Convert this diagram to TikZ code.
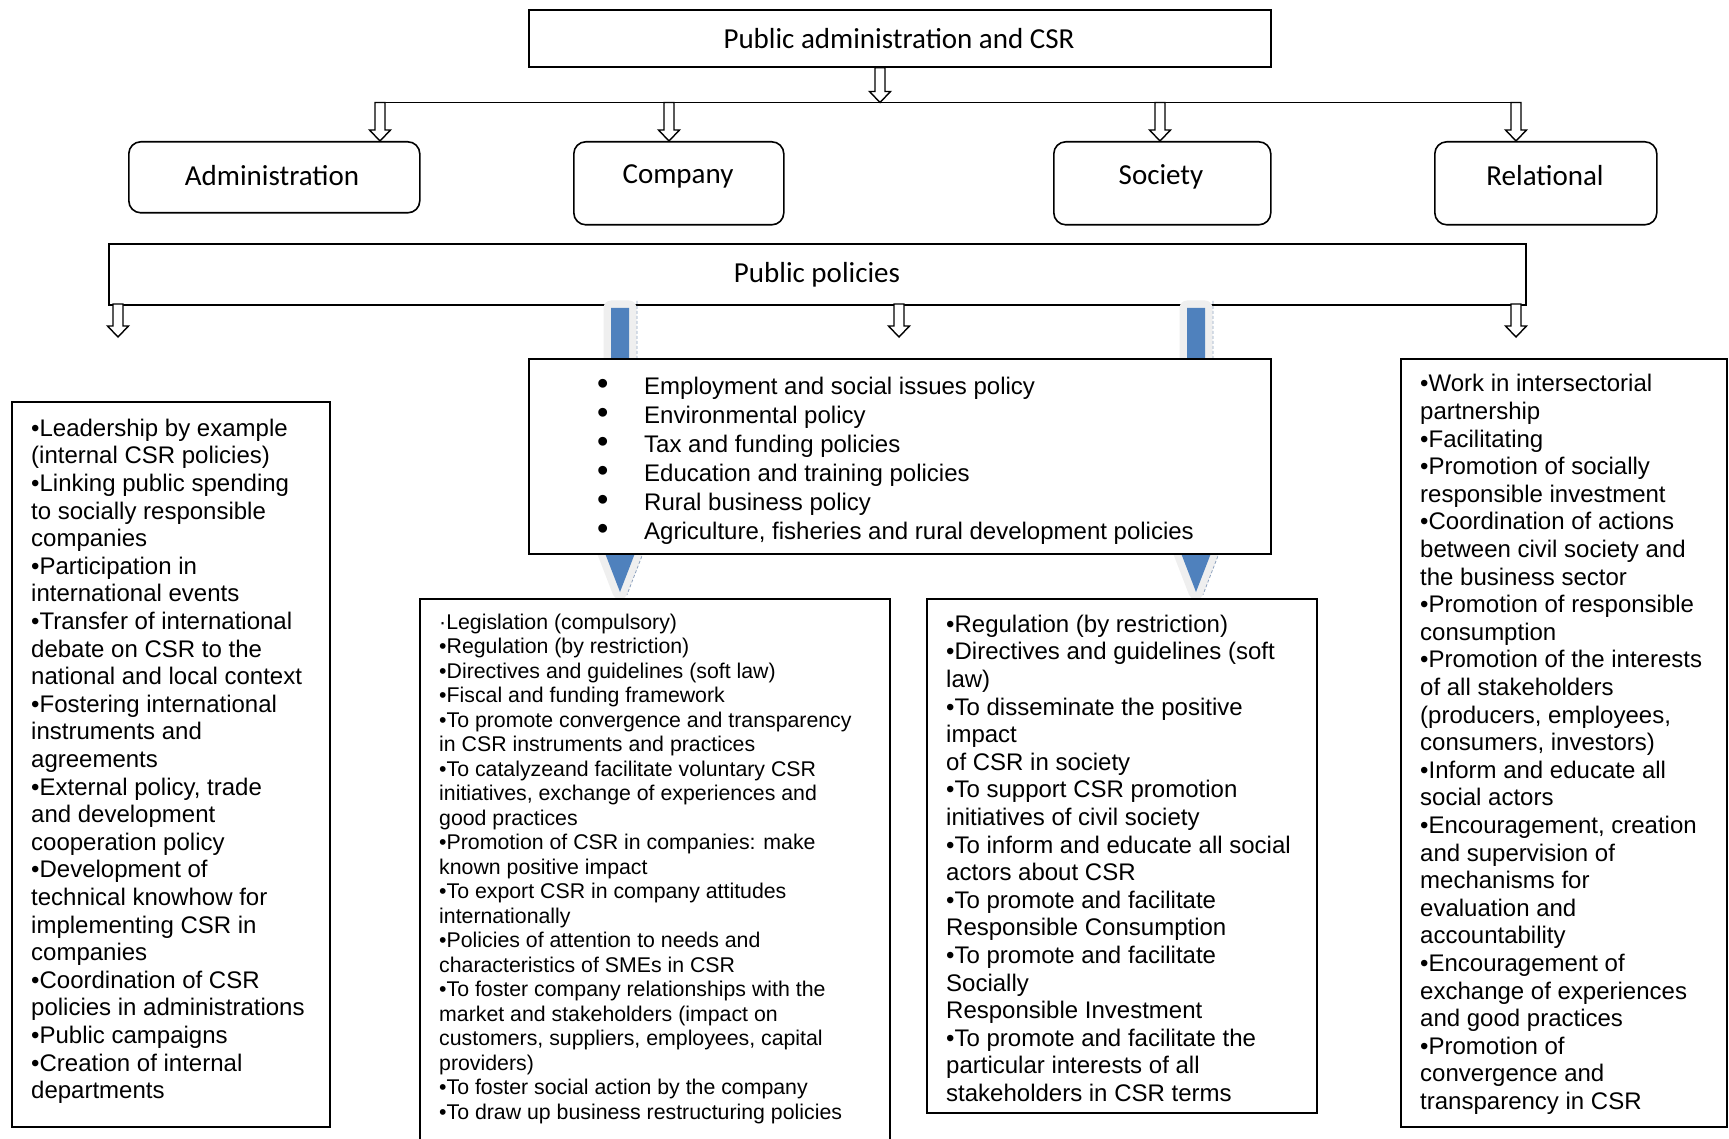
\documentclass[tikz,border=0pt]{standalone}
\usepackage{fontspec}
\setmainfont{Liberation Sans}
\newfontfamily\hdrfont{Carlito}
\usetikzlibrary{calc}
\definecolor{csrblue}{HTML}{4F81BD}
\definecolor{shadecol}{HTML}{EFEFEF}
\definecolor{dashcol}{HTML}{8FA3BF}

\newcommand\hollowarrow[2]{%
  \draw[harrow] let \p1=(#1), \p2=(#2) in
    (\x1-5pt,\y1) -- (\x1+5pt,\y1) -- (\x1+5pt,\y2+11pt) -- (\x1+10.5pt,\y2+11pt)
    -- (\x1,\y2) -- (\x1-10.5pt,\y2+11pt) -- (\x1-5pt,\y2+11pt) -- cycle;}

\newcommand\bluearrow[2]{%
  \draw[shadecol, fill=shadecol, line width=15pt, line join=round] let \p1=(#1), \p2=(#2) in
    (\x1-9pt,\y1) -- (\x1+9pt,\y1) -- (\x1+9pt,\y2+57pt) -- (\x1+22pt,\y2+57pt)
    -- (\x1,\y2) -- (\x1-22pt,\y2+57pt) -- (\x1-9pt,\y2+57pt) -- cycle;
  \fill[csrblue] let \p1=(#1), \p2=(#2) in
    (\x1-9pt,\y1) -- (\x1+9pt,\y1) -- (\x1+9pt,\y2+57pt) -- (\x1+22pt,\y2+57pt)
    -- (\x1,\y2) -- (\x1-22pt,\y2+57pt) -- (\x1-9pt,\y2+57pt) -- cycle;
  \draw[dashcol, densely dashed, line width=0.8pt] let \p1=(#1), \p2=(#2) in
    (\x1+17pt,\y1+7pt) -- (\x1+17pt,\y2+57pt)
    (\x1+29pt,\y2+54.3pt) -- (\x1+7pt,\y2-2.7pt);}

\newcommand\bigbul{\makebox[47pt][l]{\raisebox{-0.5pt}{\scalebox{1.35}{•}}}}

\begin{document}
\begin{tikzpicture}[x=1pt,y=-1pt,
  box/.style={draw, line width=1.6pt, fill=white, inner sep=0pt, anchor=north west},
  rbox/.style={box, rounded corners=12pt},
  harrow/.style={draw, line width=1.4pt, fill=white, line join=miter},
  hline/.style={line width=1.6pt},
  hdr/.style={inner sep=0pt, font={\hdrfont\fontsize{29}{34}\selectfont}},
  txt/.style={anchor=north west, inner sep=0pt, align=left, font={\fontsize{24}{27.6}\selectfont}},
  txtsmall/.style={txt, font={\fontsize{21.3}{24.5}\selectfont}},
  txtmid/.style={txt, font={\fontsize{24}{29}\selectfont}}]
\useasboundingbox (0,0) rectangle (1729,1139);
\clip (0,0) rectangle (1729,1139);

% top
\node[box, minimum width=742pt, minimum height=57pt] (top) at (528,9) {};
\node[hdr] (toptxt) at (899,39) {Public administration and CSR};

\coordinate (ln1) at (380,102.5);
\coordinate (ln2) at (669,102.5);
\coordinate (lnc) at (880,102.5);
\coordinate (ln3) at (1160,102.5);
\coordinate (ln4) at (1516,102.5);
\draw[hline] (ln1) -- (ln4);
\hollowarrow{top.south -| lnc}{lnc}

% category boxes
\node[rbox, minimum width=291pt, minimum height=71pt] (adm) at (128,141) {};
\node[rbox, minimum width=210pt, minimum height=83pt] (comp) at (573,141) {};
\node[rbox, minimum width=217pt, minimum height=83pt] (soc) at (1053,141) {};
\node[rbox, minimum width=222pt, minimum height=83pt] (rel) at (1434,141) {};
\hollowarrow{ln1}{ln1 |- adm.north}
\hollowarrow{ln2}{ln2 |- comp.north}
\hollowarrow{ln3}{ln3 |- soc.north}
\hollowarrow{ln4}{ln4 |- rel.north}
\node[hdr] (admtxt) at (272,175.5) {Administration};
\node[hdr] (comptxt) at (678,176.5) {Company};
\node[hdr] (soctxt) at (1161,176.5) {Society};
\node[hdr] (reltxt) at (1545,175.5) {Relational};

% public policies
\node[box, minimum width=1417pt, minimum height=61pt] (pp) at (108,243) {};
\node[hdr] (pptxt) at (817,274.5) {Public policies};

% blue arrows
\coordinate (b1s) at (620,308);
\coordinate (b1e) at (620,592);
\coordinate (b2s) at (1196,308);
\coordinate (b2e) at (1196,592);
\bluearrow{b1s}{b1e}
\bluearrow{b2s}{b2e}

% arrows from public policies
\coordinate (pa1) at (118,304);
\coordinate (pa1e) at (118,337);
\coordinate (pa2) at (899,304);
\coordinate (pa2e) at (899,337);
\coordinate (pa3) at (1516,304);
\coordinate (pa3e) at (1516,337);
\hollowarrow{pa1}{pa1e}
\hollowarrow{pa2}{pa2e}
\hollowarrow{pa3}{pa3e}

% middle box
\node[box, minimum width=742pt, minimum height=195pt] (mid) at (528,358) {};
\node[txtmid] (midtxt) at (597,373.5) {\strut\bigbul Employment and social issues policy\\
\bigbul Environmental policy\\
\bigbul Tax and funding policies\\
\bigbul Education and training policies\\
\bigbul Rural business policy\\
\bigbul Agriculture, fisheries and rural development policies};

% left box
\node[box, minimum width=318pt, minimum height=725pt] (lbox) at (11,401) {};
\node[txt] (ltxt) at (31,416.7) {\strut •Leadership by example\\
(internal CSR policies)\\
•Linking public spending\\
to socially responsible\\
companies\\
•Participation in\\
international events\\
•Transfer of international\\
debate on CSR to the\\
national and local context\\
•Fostering international\\
instruments and\\
agreements\\
•External policy, trade\\
and development\\
cooperation policy\\
•Development of\\
technical knowhow for\\
implementing CSR in\\
companies\\
•Coordination of CSR\\
policies in administrations\\
•Public campaigns\\
•Creation of internal\\
departments};

% right box
\node[box, minimum width=326pt, minimum height=768pt] (rbox) at (1400,358) {};
\node[txt] (rtxt) at (1420,372.3) {\strut •Work in intersectorial\\
partnership\\
•Facilitating\\
•Promotion of socially\\
responsible investment\\
•Coordination of actions\\
between civil society and\\
the business sector\\
•Promotion of responsible\\
consumption\\
•Promotion of the interests\\
of all stakeholders\\
(producers, employees,\\
consumers, investors)\\
•Inform and educate all\\
social actors\\
•Encouragement, creation\\
and supervision of\\
mechanisms for\\
evaluation and\\
accountability\\
•Encouragement of\\
exchange of experiences\\
and good practices\\
•Promotion of\\
convergence and\\
transparency in CSR};

% company policies box
\node[box, minimum width=470pt, minimum height=560pt] (cbox) at (419,598) {};
\node[txtsmall] (ctxt) at (439,612) {\strut ·Legislation (compulsory)\\
•Regulation (by restriction)\\
•Directives and guidelines (soft law)\\
•Fiscal and funding framework\\
•To promote convergence and transparency\\
in CSR instruments and practices\\
•To catalyzeand facilitate voluntary CSR\\
initiatives, exchange of experiences and\\
good practices\\
•Promotion of CSR in companies: make\\
known positive impact\\
•To export CSR in company attitudes\\
internationally\\
•Policies of attention to needs and\\
characteristics of SMEs in CSR\\
•To foster company relationships with the\\
market and stakeholders (impact on\\
customers, suppliers, employees, capital\\
providers)\\
•To foster social action by the company\\
•To draw up business restructuring policies};

% society policies box
\node[box, minimum width=390pt, minimum height=514pt] (sbox) at (926,598) {};
\node[txt] (stxt) at (946,612.7) {\strut •Regulation (by restriction)\\
•Directives and guidelines (soft\\
law)\\
•To disseminate the positive\\
impact\\
of CSR in society\\
•To support CSR promotion\\
initiatives of civil society\\
•To inform and educate all social\\
actors about CSR\\
•To promote and facilitate\\
Responsible Consumption\\
•To promote and facilitate\\
Socially\\
Responsible Investment\\
•To promote and facilitate the\\
particular interests of all\\
stakeholders in CSR terms};
\end{tikzpicture}
\end{document}
